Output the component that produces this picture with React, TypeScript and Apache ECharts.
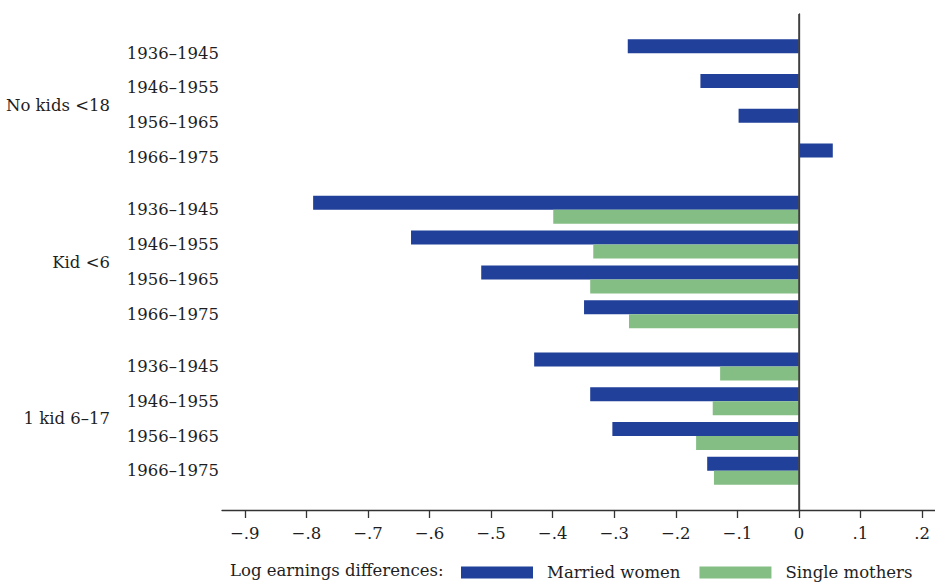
import React, { useEffect, useRef } from "react";
import * as echarts from "echarts";

const cohorts = ["1936–1945", "1946–1955", "1956–1965", "1966–1975"];
const groups = ["No kids <18", "Kid <6", "1 kid 6–17"];
const marriedWomen = [
  [-0.278, -0.16, -0.098, 0.055],
  [-0.789, -0.63, -0.516, -0.349],
  [-0.43, -0.339, -0.303, -0.149],
];
const singleMothers: (number | null)[][] = [
  [null, null, null, null],
  [-0.399, -0.334, -0.339, -0.276],
  [-0.128, -0.14, -0.167, -0.138],
];
const xTicks = [-0.9, -0.8, -0.7, -0.6, -0.5, -0.4, -0.3, -0.2, -0.1, 0, 0.1, 0.2];

// slot layout along the category axis (spacers between rows/groups)
const LEAD = 4;
const STEP = 4;
const GROUP_GAP = 6;
const TRAIL = 4;

function buildSlots() {
  const cohortLabels: string[] = [];
  const groupLabels: string[] = [];
  const m: (number | null)[] = [];
  const s: (number | null)[] = [];
  const push = (c: string, g: string, mv: number | null, sv: number | null) => {
    cohortLabels.push(c);
    groupLabels.push(g);
    m.push(mv);
    s.push(sv);
  };
  for (let i = 0; i < LEAD; i++) push("", "", null, null);
  groups.forEach((g, gi) => {
    cohorts.forEach((c, ci) => {
      push(c, "", marriedWomen[gi][ci], singleMothers[gi][ci]);
      const gap = ci < cohorts.length - 1 ? STEP - 1 : gi < groups.length - 1 ? GROUP_GAP - 1 : 0;
      for (let k = 0; k < gap; k++) {
        const label = ci === 1 && k === STEP / 2 - 1 ? g : "";
        push("", label, null, null);
      }
    });
  });
  for (let i = 0; i < TRAIL; i++) push("", "", null, null);
  return { cohortLabels, groupLabels, m, s };
}

const FONT = "DejaVu Serif";
const FS = 16.5;
const TEXT = "#1e1e1e";

export default function App() {
  const ref = useRef<HTMLDivElement>(null);
  useEffect(() => {
    document.body.style.margin = "0";
    if (!ref.current) return;
    const chart = echarts.init(ref.current, null, { renderer: "svg" });
    const { cohortLabels, groupLabels, m, s } = buildSlots();
    const fmt = (v: number) => {
      if (Math.abs(v) < 1e-9) return "0";
      return (v < 0 ? "−" : "") + "." + Math.round(Math.abs(v) * 10);
    };
    chart.setOption({
      animation: false,
      backgroundColor: "#fff",
      title: {
        text: "Log earnings differences:",
        left: 230,
        top: 563,
        padding: 0,
        textStyle: { fontFamily: FONT, fontSize: FS, lineHeight: 14, fontWeight: "normal", color: TEXT },
      },
      legend: {
        data: ["Married women", "Single mothers"],
        left: 461,
        top: 564,
        padding: 0,
        itemWidth: 72,
        itemHeight: 12,
        itemGap: 19,
        icon: "rect",
        textStyle: { fontFamily: FONT, fontSize: FS, lineHeight: 14, color: TEXT, padding: [0, 0, 0, 9] },
      },
      grid: { left: 222, right: 0, top: 14, bottom: 72 },
      xAxis: {
        type: "value",
        min: -0.937,
        max: 0.221,
        axisLine: { show: true, onZero: false, lineStyle: { color: "#333", width: 1.3 } },
        splitLine: { show: false },
        axisTick: { show: true, length: 8, customValues: xTicks, lineStyle: { color: "#333", width: 1.3 } },
        axisLabel: {
          customValues: xTicks,
          formatter: fmt,
          margin: 15,
          fontFamily: FONT,
          fontSize: FS,
          color: TEXT,
        },
      },
      yAxis: [
        {
          type: "category",
          inverse: true,
          data: cohortLabels,
          position: "left",
          axisLine: { show: true, lineStyle: { color: "#333", width: 1.3 } },
          axisTick: { show: false },
          axisLabel: { interval: 0, margin: 3, fontFamily: FONT, fontSize: FS, color: TEXT },
        },
        {
          type: "category",
          inverse: true,
          data: groupLabels,
          position: "left",
          axisLine: { show: false },
          axisTick: { show: false },
          axisLabel: { interval: 0, margin: 112, fontFamily: FONT, fontSize: FS, color: TEXT },
        },
      ],
      series: [
        {
          name: "Married women",
          type: "bar",
          yAxisIndex: 0,
          data: m,
          barWidth: 14,
          barGap: "0%",
          itemStyle: { color: "#21409a" },
          markLine: {
            silent: true,
            symbol: ["none", "none"],
            label: { show: false },
            lineStyle: { color: "#444", width: 1.6, type: "solid" },
            data: [{ xAxis: 0 }],
          },
        },
        {
          name: "Single mothers",
          type: "bar",
          yAxisIndex: 0,
          data: s,
          barWidth: 14,
          barGap: "0%",
          itemStyle: { color: "#84be84" },
        },
      ],
    });
    return () => chart.dispose();
  }, []);
  return <div ref={ref} style={{ width: 935, height: 582 }} />;
}
